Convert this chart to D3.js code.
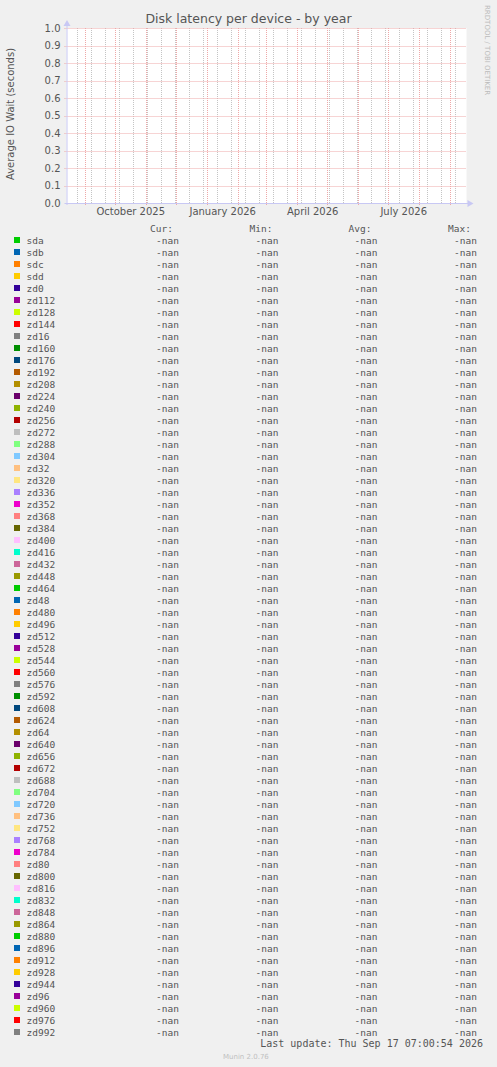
<!DOCTYPE html>
<html>
<head>
<meta charset="utf-8">
<script src="https://cdn.jsdelivr.net/npm/d3@7"></script>
<style>
  body { margin: 0; background: #f0f0f0; }
  text { font-family: "DejaVu Sans", sans-serif; }
  .mono { font-family: "DejaVu Sans Mono", monospace; }
</style>
</head>
<body>
<div id="chart"></div>
<script>

// devices in the legend, in munin order
var devices = [
  "sda", "sdb", "sdc", "sdd", "zd0", "zd112", "zd128", "zd144", "zd16", "zd160",
  "zd176", "zd192", "zd208", "zd224", "zd240", "zd256", "zd272", "zd288", "zd304", "zd32",
  "zd320", "zd336", "zd352", "zd368", "zd384", "zd400", "zd416", "zd432", "zd448", "zd464",
  "zd48", "zd480", "zd496", "zd512", "zd528", "zd544", "zd560", "zd576", "zd592", "zd608",
  "zd624", "zd64", "zd640", "zd656", "zd672", "zd688", "zd704", "zd720", "zd736", "zd752",
  "zd768", "zd784", "zd80", "zd800", "zd816", "zd832", "zd848", "zd864", "zd880", "zd896",
  "zd912", "zd928", "zd944", "zd96", "zd960", "zd976", "zd992"
];

// munin default palette, cycled
var palette = [
  "#00CC00", "#0066B3", "#FF8000", "#FFCC00", "#330099", "#990099", "#CCFF00", "#FF0000",
  "#808080", "#008F00", "#00487D", "#B35A00", "#B38F00", "#6B006B", "#8FB300", "#B30000",
  "#BEBEBE", "#80FF80", "#80C9FF", "#FFC080", "#FFE680", "#AA80FF", "#EE00CC", "#FF8080",
  "#666600", "#FFBFFF", "#00FFCC", "#CC6699", "#999900"
];

// no samples were recorded for any device in this period
var samples = [];   // { device, time, value }

var yTicks = [0, 0.1, 0.2, 0.3, 0.4, 0.5, 0.6, 0.7, 0.8, 0.9, 1.0];
var legendHeads = ["Cur:", "Min:", "Avg:", "Max:"];

var endTime = new Date(Date.UTC(2026, 8, 17, 7, 0, 54));
var startTime = d3.utcDay.offset(endTime, -400);
var minorAnchor = new Date(Date.UTC(2025, 7, 24));
var lastUpdate = "Last update: Thu Sep 17 07:00:54 2026";

var svgWidth = 497;
var svgHeight = 1067;

var plot = { left: 66.5, right: 466.5, top: 28, bottom: 203 };

var svg = d3.select("#chart")
  .append("svg")
  .attr("width", svgWidth)
  .attr("height", svgHeight);

svg.append("rect")
  .attr("width", svgWidth)
  .attr("height", svgHeight)
  .attr("fill", "#f0f0f0");

var x = d3.scaleUtc()
  .domain([startTime, endTime])
  .range([plot.left, plot.right]);

var y = d3.scaleLinear()
  .domain([0, 1])
  .range([plot.bottom, plot.top]);

svg.append("rect")
  .attr("x", plot.left)
  .attr("y", plot.top)
  .attr("width", plot.right - plot.left)
  .attr("height", plot.bottom - plot.top)
  .attr("fill", "#ffffff");

// minor grid every two weeks, major grid every month
var minorTimes = d3.utcDay.every(1).range(minorAnchor, endTime)
  .filter((d, i) => i % 14 === 0);
var monthTimes = d3.utcMonth.range(startTime, endTime);

var grid = svg.append("g");

grid.selectAll(".minor")
  .data(minorTimes)
  .enter()
  .append("line")
  .attr("x1", d => Math.round(x(d)) + 0.5)
  .attr("x2", d => Math.round(x(d)) + 0.5)
  .attr("y1", plot.top)
  .attr("y2", plot.bottom)
  .attr("stroke", "#c4c4c4")
  .attr("stroke-width", 1)
  .attr("stroke-dasharray", "1,1");

grid.selectAll(".major")
  .data(monthTimes)
  .enter()
  .append("line")
  .attr("x1", d => Math.round(x(d)) + 0.5)
  .attr("x2", d => Math.round(x(d)) + 0.5)
  .attr("y1", plot.top)
  .attr("y2", plot.bottom + 2)
  .attr("stroke", "#eea8a8")
  .attr("stroke-width", 1)
  .attr("stroke-dasharray", "1,1");

grid.selectAll(".hgrid")
  .data(yTicks.slice(1))
  .enter()
  .append("line")
  .attr("x1", plot.left - 2)
  .attr("x2", plot.right)
  .attr("y1", d => Math.round(y(d)) + 0.5)
  .attr("y2", d => Math.round(y(d)) + 0.5)
  .attr("stroke", "#eea8a8")
  .attr("stroke-width", 1)
  .attr("stroke-dasharray", "1,1");

// data lines (empty: nothing recorded)
var line = d3.line()
  .defined(d => !isNaN(d.value))
  .x(d => x(d.time))
  .y(d => y(d.value));

svg.append("g")
  .selectAll("path")
  .data(devices)
  .enter()
  .append("path")
  .attr("fill", "none")
  .attr("stroke", (d, i) => palette[i % palette.length])
  .attr("d", d => line(samples.filter(s => s.device === d)));

// axes
var leftAxis = d3.axisLeft(y)
  .tickValues(yTicks)
  .tickSize(0)
  .tickPadding(6)
  .tickFormat(d3.format(".1f"));

var yAxisG = svg.append("g")
  .attr("transform", `translate(${plot.left}, 0)`)
  .call(leftAxis);
yAxisG.select(".domain").remove();
yAxisG.selectAll("text")
  .attr("fill", "#555")
  .style("font-family", "DejaVu Sans")
  .style("font-size", "10px");

var labelTimes = d3.utcMonth.every(3).range(startTime, endTime)
  .map(d => d3.utcDay.offset(d, 15));

var bottomAxis = d3.axisBottom(x)
  .tickValues(labelTimes)
  .tickSize(0)
  .tickPadding(5)
  .tickFormat(d3.utcFormat("%B %Y"));

var xAxisG = svg.append("g")
  .attr("transform", `translate(0, ${plot.bottom})`)
  .call(bottomAxis);
xAxisG.select(".domain").remove();
xAxisG.selectAll("text")
  .attr("fill", "#555")
  .style("font-family", "DejaVu Sans")
  .style("font-size", "10px");

var axisColor = "#c8c8f4";

svg.append("line")
  .attr("x1", plot.left - 2)
  .attr("x2", plot.right + 2)
  .attr("y1", plot.bottom + 0.5)
  .attr("y2", plot.bottom + 0.5)
  .attr("stroke", axisColor);

svg.append("line")
  .attr("x1", plot.left + 0.5)
  .attr("x2", plot.left + 0.5)
  .attr("y1", plot.bottom + 2)
  .attr("y2", plot.top - 4)
  .attr("stroke", axisColor);

svg.append("path")
  .attr("d", `M${plot.right + 1},${plot.bottom - 3} L${plot.right + 7},${plot.bottom + 0.5} L${plot.right + 1},${plot.bottom + 4} Z`)
  .attr("fill", axisColor);

svg.append("path")
  .attr("d", `M${plot.left - 3},${plot.top - 2} L${plot.left + 0.5},${plot.top - 8} L${plot.left + 4},${plot.top - 2} Z`)
  .attr("fill", axisColor);

// titles
svg.append("text")
  .attr("x", 248.5)
  .attr("y", 23)
  .attr("text-anchor", "middle")
  .attr("fill", "#555")
  .style("font-size", "12.5px")
  .text("Disk latency per device - by year");

svg.append("text")
  .attr("transform", `translate(14, 114) rotate(-90)`)
  .attr("text-anchor", "middle")
  .attr("fill", "#555")
  .style("font-size", "10px")
  .text("Average IO Wait (seconds)");

svg.append("text")
  .attr("transform", `translate(485, 5) rotate(90)`)
  .attr("fill", "#bbb")
  .style("font-size", "7px")
  .text("RRDTOOL / TOBI OETIKER");

// legend
var colRight = [179, 278.5, 377.5, 477];
var rowTop = 243.5;
var rowStep = 12;

var legend = svg.append("g").attr("class", "mono");

legend.selectAll(".head")
  .data(legendHeads)
  .enter()
  .append("text")
  .attr("class", "mono")
  .attr("x", (d, i) => colRight[i] - 6)
  .attr("y", rowTop - rowStep)
  .attr("text-anchor", "end")
  .attr("fill", "#555")
  .style("font-size", "9.5px")
  .text(d => d);

function fmt(v) {
  return (v === undefined || isNaN(v)) ? "-nan" : d3.format(".2f")(v);
}

var rows = legend.selectAll(".row")
  .data(devices)
  .enter()
  .append("g")
  .attr("transform", (d, i) => `translate(0, ${rowTop + i * rowStep})`);

rows.append("rect")
  .attr("x", 14)
  .attr("y", -6.5)
  .attr("width", 6)
  .attr("height", 6)
  .attr("fill", (d, i) => palette[i % palette.length]);

rows.append("text")
  .attr("class", "mono")
  .attr("x", 26.5)
  .attr("fill", "#555")
  .style("font-size", "9.5px")
  .text(d => d);

rows.each(function(dev) {
  var vals = samples.filter(s => s.device === dev).map(s => s.value);
  var stats = [vals[vals.length - 1], d3.min(vals), d3.mean(vals), d3.max(vals)];
  d3.select(this).selectAll(".val")
    .data(stats)
    .enter()
    .append("text")
    .attr("class", "mono")
    .attr("x", (d, i) => colRight[i])
    .attr("text-anchor", "end")
    .attr("fill", "#555")
    .style("font-size", "9.5px")
    .text(d => fmt(d));
});

svg.append("text")
  .attr("class", "mono")
  .attr("x", 483)
  .attr("y", 1047)
  .attr("text-anchor", "end")
  .attr("fill", "#555")
  .style("font-size", "10px")
  .text(lastUpdate);

svg.append("text")
  .attr("x", 223)
  .attr("y", 1059)
  .attr("fill", "#c0c0c0")
  .style("font-size", "7px")
  .text("Munin 2.0.76");

</script>
</body>
</html>
